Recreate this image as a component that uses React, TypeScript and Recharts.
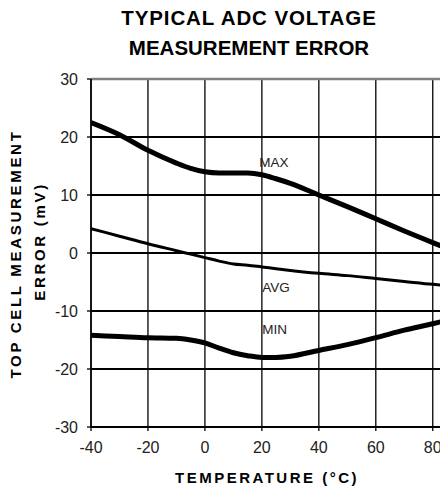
import React from 'react';
import { LineChart, Line, XAxis, YAxis, CartesianGrid, ReferenceLine, ReferenceDot } from 'recharts';

const temps = [-40, -30, -20, -10, -5, 0, 5, 10, 15, 20, 25, 30, 40, 50, 60, 70, 80, 85];
const maxErr = [22.5, 20.4, 17.7, 15.5, 14.6, 14.0, 13.8, 13.8, 13.8, 13.5, 12.8, 12.0, 10.0, 8.0, 5.9, 3.8, 1.8, 0.8];
const avgErr = [4.2, 2.9, 1.6, 0.4, -0.2, -0.8, -1.4, -1.9, -2.1, -2.4, -2.7, -3.0, -3.5, -3.9, -4.4, -4.9, -5.4, -5.6];
const minErr = [-14.2, -14.4, -14.6, -14.7, -15.0, -15.5, -16.4, -17.2, -17.7, -18.0, -18.0, -17.8, -16.8, -15.8, -14.6, -13.3, -12.2, -11.6];
const xTicks = [-40, -20, 0, 20, 40, 60, 80];
const yTicks = [-30, -20, -10, 0, 10, 20, 30];

const data = temps.map((t, i) => ({ t, max: maxErr[i], avg: avgErr[i], min: minErr[i] }));

const FONT = 'Arial, "Liberation Sans", sans-serif';

const CurveLabel = (props: any) => {
  const vb = props.viewBox || {};
  return (
    <text x={vb.x} y={vb.y} dy="0.35em" textAnchor="start" fontFamily={FONT} fontSize={13.5} fill="#222">
      {props.text}
    </text>
  );
};

export default function App() {
  const W = 440;
  const H = 485;
  return (
    <div style={{ position: 'relative', width: W, height: H }}>
      <LineChart
        width={W}
        height={H}
        data={data}
        margin={{ top: 71, right: 1, bottom: 36, left: 43 }}
      >
        <CartesianGrid horizontal={true} vertical={false} stroke="#000" strokeWidth={2} />
        <CartesianGrid horizontal={false} vertical={true} stroke="#000" strokeWidth={1.3} />
        <XAxis
          dataKey="t"
          type="number"
          domain={[-40, 85]}
          ticks={xTicks}
          allowDataOverflow
          height={30}
          tickSize={4}
          tickMargin={11}
          axisLine={{ stroke: '#000', strokeWidth: 1.5 }}
          tickLine={{ stroke: '#000', strokeWidth: 1.3 }}
          tick={{ fill: '#222', fontSize: 16, fontFamily: FONT }}
        />
        <YAxis
          type="number"
          domain={[-30, 30]}
          ticks={yTicks}
          width={40}
          tickSize={4}
          tickMargin={9}
          axisLine={{ stroke: '#000', strokeWidth: 1.5 }}
          tickLine={{ stroke: '#000', strokeWidth: 1.3 }}
          tick={{ fill: '#222', fontSize: 16, fontFamily: FONT }}
        />
        <ReferenceLine y={30} stroke="#808080" strokeWidth={2.5} />
        <ReferenceLine x={85} stroke="#000" strokeWidth={1.3} />
        <Line type="monotone" dataKey="max" stroke="#000" strokeWidth={5} dot={false} isAnimationActive={false} />
        <Line type="monotone" dataKey="avg" stroke="#000" strokeWidth={3} dot={false} isAnimationActive={false} />
        <Line type="monotone" dataKey="min" stroke="#000" strokeWidth={5} dot={false} isAnimationActive={false} />
        <ReferenceDot x={19.1} y={15.7} r={0} fill="none" stroke="none" label={<CurveLabel text="MAX" />} />
        <ReferenceDot x={20.1} y={-5.9} r={0} fill="none" stroke="none" label={<CurveLabel text="AVG" />} />
        <ReferenceDot x={20.1} y={-13.2} r={0} fill="none" stroke="none" label={<CurveLabel text="MIN" />} />
      </LineChart>
      <svg
        width={W}
        height={H}
        style={{ position: 'absolute', left: 0, top: 0, pointerEvents: 'none', overflow: 'visible' }}
      >
        <text x={241} y={17} textAnchor="middle" fontFamily={FONT} fontWeight="bold" fontSize={20.5} letterSpacing={0.9} fill="#000">
          TYPICAL ADC VOLTAGE
        </text>
        <text x={241} y={47} textAnchor="middle" fontFamily={FONT} fontWeight="bold" fontSize={20.5} fill="#000">
          MEASUREMENT ERROR
        </text>
        <text x={259} y={475} textAnchor="middle" fontFamily={FONT} fontWeight="bold" fontSize={15} letterSpacing={2.5} fill="#000">
          TEMPERATURE (°C)
        </text>
        <text
          transform="translate(13,246) rotate(-90)"
          textAnchor="middle"
          fontFamily={FONT}
          fontWeight="bold"
          fontSize={15}
          letterSpacing={2.7}
          fill="#000"
        >
          TOP CELL MEASUREMENT
        </text>
        <text
          transform="translate(37,233.5) rotate(-90)"
          textAnchor="middle"
          fontFamily={FONT}
          fontWeight="bold"
          fontSize={15}
          letterSpacing={2.7}
          fill="#000"
        >
          ERROR (mV)
        </text>
      </svg>
    </div>
  );
}
